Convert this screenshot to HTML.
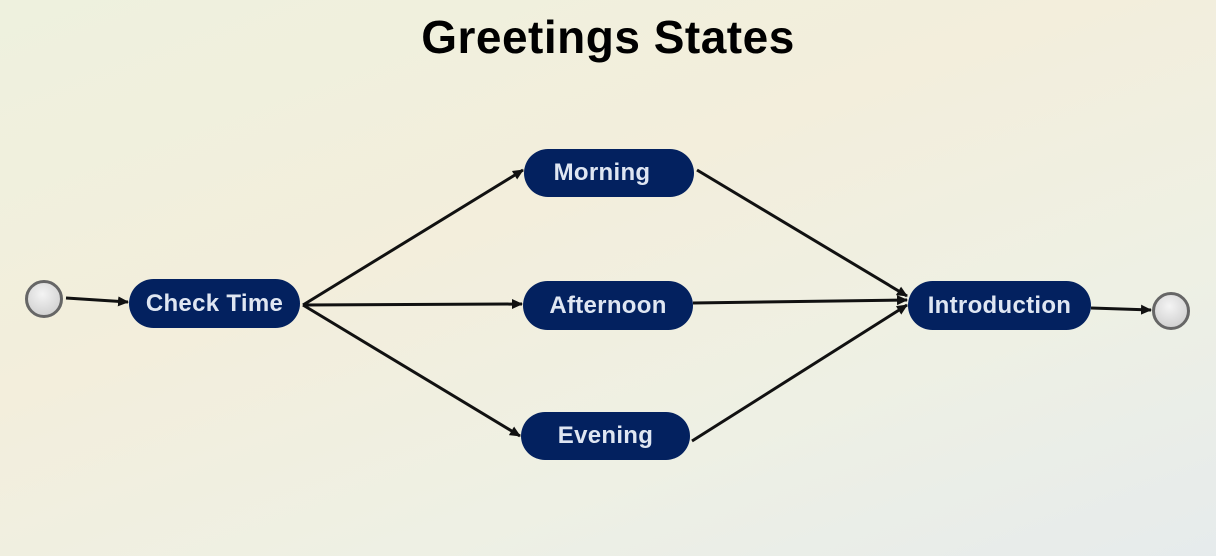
<!DOCTYPE html>
<html><head><meta charset="utf-8"><style>
html,body{margin:0;padding:0}
body{width:1216px;height:556px;overflow:hidden;position:relative;font-family:"Liberation Sans",sans-serif;
background:linear-gradient(160deg,#eef1de 0%,#f3eedc 40%,#eef0e4 70%,#e6ebec 100%);}
.t{position:absolute;left:0;width:1216px;top:10px;text-align:center;font-weight:bold;font-size:46px;color:#000;letter-spacing:0.5px}
.n{position:absolute;background:#03215f;border-radius:25px;color:#dfe6f2;font-weight:bold;font-size:24px;display:flex;align-items:center;justify-content:center;letter-spacing:0.3px}
.c{position:absolute;width:32px;height:32px;border-radius:50%;border:3px solid #666;background:radial-gradient(circle at 45% 35%,#f4f4f4,#c8c8c8)}
</style></head><body>
<div class="t">Greetings States</div>
<svg width="1216" height="556" style="position:absolute;left:0;top:0">
<defs><marker id="a" markerWidth="12" markerHeight="12" refX="10" refY="6" orient="auto" markerUnits="userSpaceOnUse"><path d="M0,1 L11,6 L0,11 z" fill="#111"/></marker></defs>
<g stroke="#111" stroke-width="3" fill="none" marker-end="url(#a)">
<line x1="66" y1="298" x2="128" y2="302"/>
<line x1="303" y1="305" x2="523" y2="170"/>
<line x1="303" y1="305" x2="522" y2="304"/>
<line x1="303" y1="305" x2="520" y2="436"/>
<line x1="697" y1="170" x2="907" y2="296"/>
<line x1="693" y1="303" x2="907" y2="300"/>
<line x1="692" y1="441" x2="907" y2="305"/>
<line x1="1091" y1="308" x2="1151" y2="310"/>
</g></svg>
<div class="c" style="left:25px;top:280px"></div>
<div class="c" style="left:1152px;top:292px"></div>
<div class="n" style="left:129px;top:279px;width:171px;height:49px">Check Time</div>
<div class="n" style="left:524px;top:149px;width:170px;height:48px;padding-right:14px;box-sizing:border-box">Morning</div>
<div class="n" style="left:523px;top:281px;width:170px;height:49px">Afternoon</div>
<div class="n" style="left:521px;top:412px;width:169px;height:48px">Evening</div>
<div class="n" style="left:908px;top:281px;width:183px;height:49px">Introduction</div>
</body></html>
